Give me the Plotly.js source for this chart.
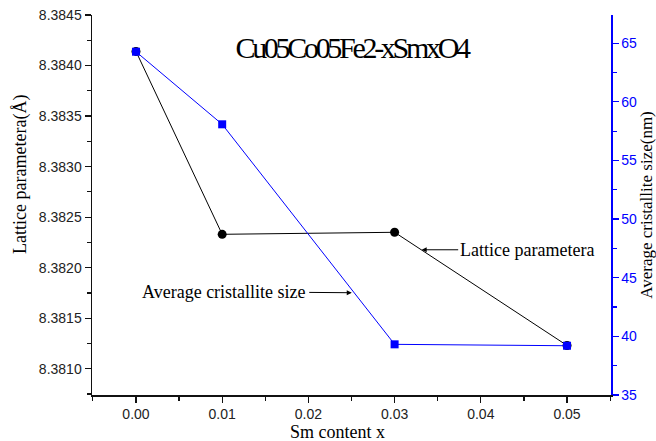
<!DOCTYPE html>
<html>
<head>
<meta charset="utf-8">
<script src="https://cdn.plot.ly/plotly-3.0.1.min.js"></script>
<style>
html,body{margin:0;padding:0;background:#fff;}
#chart{width:656px;height:441px;}
.gtitle{letter-spacing:-3.3px;}
</style>
</head>
<body>
<div id="chart"></div>
<script>
// Data
const smContent = [0.00, 0.01, 0.03, 0.05];
const latticeParam = [8.38414, 8.38233, 8.38235, 8.38123];
const crystalliteSize = [64.27, 58.08, 39.32, 39.2];

const xTitle = 'Sm content x';
const yTitle = 'Lattice parametera(Å)';
const y2Title = 'Average cristallite size(nm)';
const chartTitle = 'Cu05Co05Fe2-xSmxO4';
const labelLattice = 'Lattice parametera';
const labelSize = 'Average cristallite size';

const serif = '"Liberation Serif", "Times New Roman", serif';
const sans = '"Liberation Sans", Arial, sans-serif';

const traces = [
  {
    x: smContent, y: latticeParam, type: 'scatter', mode: 'lines+markers',
    line: {color: '#000000', width: 1},
    marker: {symbol: 'circle', size: 9, color: '#000000'},
    xaxis: 'x', yaxis: 'y', showlegend: false, hoverinfo: 'none'
  },
  {
    x: smContent, y: crystalliteSize, type: 'scatter', mode: 'lines+markers',
    line: {color: '#0000ff', width: 1},
    marker: {symbol: 'square', size: 8, color: '#0000ff'},
    xaxis: 'x', yaxis: 'y2', showlegend: false, hoverinfo: 'none'
  }
];

const xRange = [-0.0051, 0.0551];
const axCol = '#111111';

const layout = {
  width: 656, height: 441,
  margin: {l: 92, r: 45, t: 15, b: 46, pad: 0},
  paper_bgcolor: '#ffffff', plot_bgcolor: '#ffffff',
  font: {family: sans, size: 14, color: '#222222'},
  title: {
    text: chartTitle, font: {family: serif, size: 30, color: '#000000'},
    x: 0.536, xref: 'container', xanchor: 'center',
    y: 0.893, yref: 'container', yanchor: 'middle'
  },
  xaxis: {
    range: xRange, tick0: 0, dtick: 0.01, tickformat: '.2f',
    showline: true, linecolor: axCol, linewidth: 1.5,
    ticks: 'outside', ticklen: 6, tickwidth: 1.2, tickcolor: axCol,
    minor: {dtick: 0.005, tick0: 0, ticks: 'outside', ticklen: 4, tickcolor: axCol, tickwidth: 1.2},
    showgrid: false, zeroline: false,
    tickfont: {family: sans, size: 14, color: '#222222'}
  },
  xaxis2: {
    overlaying: 'x', side: 'top', anchor: 'y',
    range: xRange, tick0: 0, dtick: 0.01,
    showline: true, linecolor: axCol, linewidth: 1.5,
    ticks: 'inside', ticklen: 6, tickwidth: 1.2, tickcolor: axCol,
    minor: {dtick: 0.005, tick0: 0, ticks: 'inside', ticklen: 4, tickcolor: axCol, tickwidth: 1.2},
    showticklabels: false, showgrid: false, zeroline: false
  },
  yaxis: {
    range: [8.38074, 8.3845], tick0: 8.381, dtick: 0.0005, tickformat: '.4f',
    showline: true, linecolor: axCol, linewidth: 1.5,
    ticks: 'outside', ticklen: 6, tickwidth: 1.2, tickcolor: axCol,
    minor: {dtick: 0.00025, ticks: 'outside', ticklen: 4, tickcolor: axCol, tickwidth: 1.2},
    showgrid: false, zeroline: false,
    tickfont: {family: sans, size: 14, color: '#222222'}
  },
  yaxis2: {
    overlaying: 'y', side: 'right', anchor: 'x',
    range: [35, 67.4], tick0: 35, dtick: 5,
    showline: true, linecolor: '#0000ff', linewidth: 1.5,
    ticks: 'outside', ticklen: 6, tickwidth: 1.2, tickcolor: '#0000ff',
    minor: {dtick: 2.5, ticks: 'outside', ticklen: 4, tickcolor: '#0000ff', tickwidth: 1.2},
    showgrid: false, zeroline: false,
    tickfont: {family: sans, size: 14, color: '#0000ff'}
  },
  annotations: [
    {text: yTitle, xref: 'paper', yref: 'paper', x: -0.138, y: 0.58, textangle: -90,
     showarrow: false, xanchor: 'center', yanchor: 'middle', font: {family: serif, size: 18, color: '#000000'}},
    {text: y2Title, xref: 'paper', yref: 'paper', x: 1.067, y: 0.5, textangle: -90,
     showarrow: false, xanchor: 'center', yanchor: 'middle', font: {family: serif, size: 17, color: '#000000'}},
    {text: xTitle, xref: 'paper', yref: 'paper', x: 0.4727, y: -0.097,
     showarrow: false, xanchor: 'center', yanchor: 'middle', font: {family: serif, size: 18, color: '#000000'}},
    {text: labelSize, xref: 'x', yref: 'y2', x: 0.02503, y: 43.72,
     showarrow: true, ax: -128, ay: -1, arrowhead: 2, arrowsize: 1, arrowwidth: 1, arrowcolor: '#000000',
     standoff: 0, borderpad: 3,
     font: {family: serif, size: 18, color: '#000000'}},
    {text: labelLattice, xref: 'x', yref: 'y', x: 0.03314, y: 8.382177,
     showarrow: true, ax: 105, ay: 0, arrowhead: 2, arrowsize: 1, arrowwidth: 1, arrowcolor: '#000000',
     font: {family: serif, size: 18, color: '#000000'}}
  ]
};

Plotly.newPlot('chart', traces, layout, {displayModeBar: false, staticPlot: true});
</script>
</body>
</html>
